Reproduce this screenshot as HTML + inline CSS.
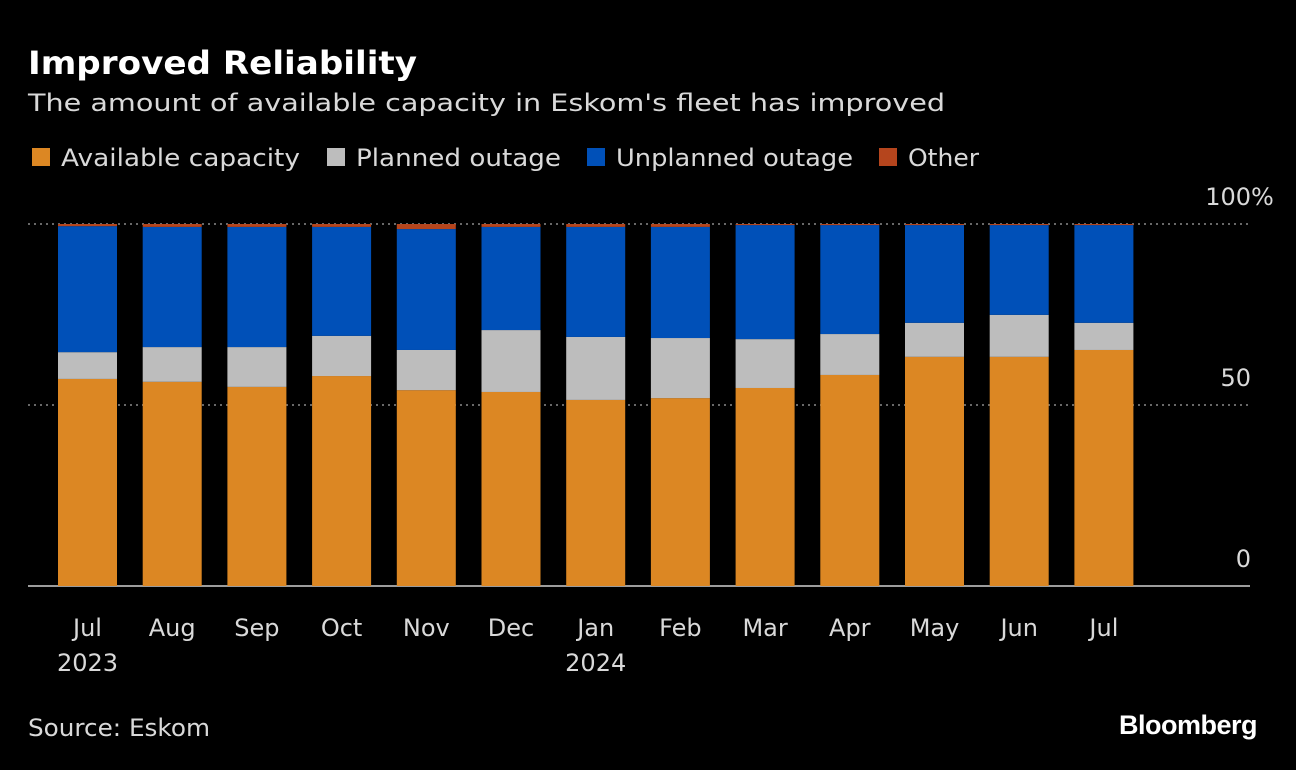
<!DOCTYPE html>
<html><head><meta charset="utf-8"><style>
html,body{margin:0;padding:0;background:#000;width:1296px;height:770px;overflow:hidden}
svg text{fill:#d9d9d9;font-family:"DejaVu Sans","Liberation Sans",sans-serif;font-size:24px}
</style></head><body>
<svg id="chart" width="1296" height="770" xmlns="http://www.w3.org/2000/svg">
<text x="28" y="74" textLength="389" lengthAdjust="spacingAndGlyphs" style="font-family:'DejaVu Sans',sans-serif;font-weight:bold;font-size:32px;fill:#fff">Improved Reliability</text>
<text x="28" y="111" textLength="917" lengthAdjust="spacingAndGlyphs">The amount of available capacity in Eskom's fleet has improved</text>
<g>
<rect x="32" y="148" width="18" height="18" fill="#dc8723"/>
<text x="61" y="166" textLength="239" lengthAdjust="spacingAndGlyphs">Available capacity</text>
<rect x="327" y="148" width="18" height="18" fill="#bdbdbd"/>
<text x="356" y="166" textLength="205" lengthAdjust="spacingAndGlyphs">Planned outage</text>
<rect x="587" y="148" width="18" height="18" fill="#0050b8"/>
<text x="616" y="166" textLength="237" lengthAdjust="spacingAndGlyphs">Unplanned outage</text>
<rect x="879" y="148" width="18" height="18" fill="#b5451d"/>
<text x="908" y="166" textLength="71" lengthAdjust="spacingAndGlyphs">Other</text>
</g>
<g id="grid"></g>
<g id="bars"></g>
<g id="xlabels"></g>
<text x="28" y="736" textLength="182" lengthAdjust="spacingAndGlyphs">Source: Eskom</text>
<text x="1257" y="734" text-anchor="end" style="font-family:'Liberation Sans',sans-serif;font-weight:bold;font-size:27px;fill:#fff;letter-spacing:-0.5px">Bloomberg</text>
</svg>
<script>
const months = ["Jul","Aug","Sep","Oct","Nov","Dec","Jan","Feb","Mar","Apr","May","Jun","Jul"];
const years = ["2023","","","","","","2024","","","","","",""];
const available = [57.2,56.4,55.0,58.0,54.1,53.6,51.4,51.9,54.7,58.3,63.3,63.3,65.2];
const planned = [7.4,9.6,11.0,11.1,11.1,17.1,17.4,16.6,13.5,11.3,9.4,11.6,7.5];
const unplanned = [34.8,33.2,33.2,30.1,33.4,28.5,30.4,30.7,31.5,30.1,27.0,24.8,27.0];
const other = [0.6,0.8,0.8,0.8,1.4,0.8,0.8,0.8,0.3,0.3,0.3,0.3,0.3];
const yTicks = [0,50,100];
const yTickLabels = ["0","50","100"];

const NS="http://www.w3.org/2000/svg";
const y0=586, pxPer=3.62;
const y=v=>y0-v*pxPer;
const x=i=>58+i*84.7;
const bw=59;
const grid=document.getElementById('grid'), bars=document.getElementById('bars'), xl=document.getElementById('xlabels');
function mk(t,a,p){const e=document.createElementNS(NS,t);for(const k in a)e.setAttribute(k,a[k]);p.appendChild(e);return e;}
yTicks.forEach((t,i)=>{
  if(t>0){const l=mk('line',{x1:28,x2:1250,y1:y(t),y2:y(t),stroke:'#8a8a8a','stroke-width':1.5,'stroke-dasharray':'2,4'},grid);
    
    }
  const tx=mk('text',{x:1251,y:y(t)-19,'text-anchor':'end'},grid);
  tx.textContent=yTickLabels[i];
  
  
  if(t===100){const p=mk('text',{x:1251,y:y(t)-19},grid);
    p.textContent='%';
    
    }
});
const series=[[available,'#dc8723','available'],[planned,'#bdbdbd','planned'],[unplanned,'#0050b8','unplanned'],[other,'#b5451d','other']];
months.forEach((m,i)=>{
  let base=0;
  series.forEach(([arr,c,n])=>{
    const v=arr[i];
    const r=mk('rect',{x:x(i),y:y(base+v),width:bw,height:v*pxPer,fill:c},bars);
    
    
    base+=v;
  });
  const t=mk('text',{x:x(i)+bw/2,y:636,'text-anchor':'middle'},xl);
  t.textContent=m;
  
  
  if(years[i]){const t2=mk('text',{x:x(i)+bw/2,y:671,'text-anchor':'middle'},xl);
    t2.textContent=years[i];
    
    }
});
const ax=mk('line',{x1:28,x2:1250,y1:y0,y2:y0,stroke:'#cfcfcf','stroke-width':1.5},grid);


</script>
</body></html>
